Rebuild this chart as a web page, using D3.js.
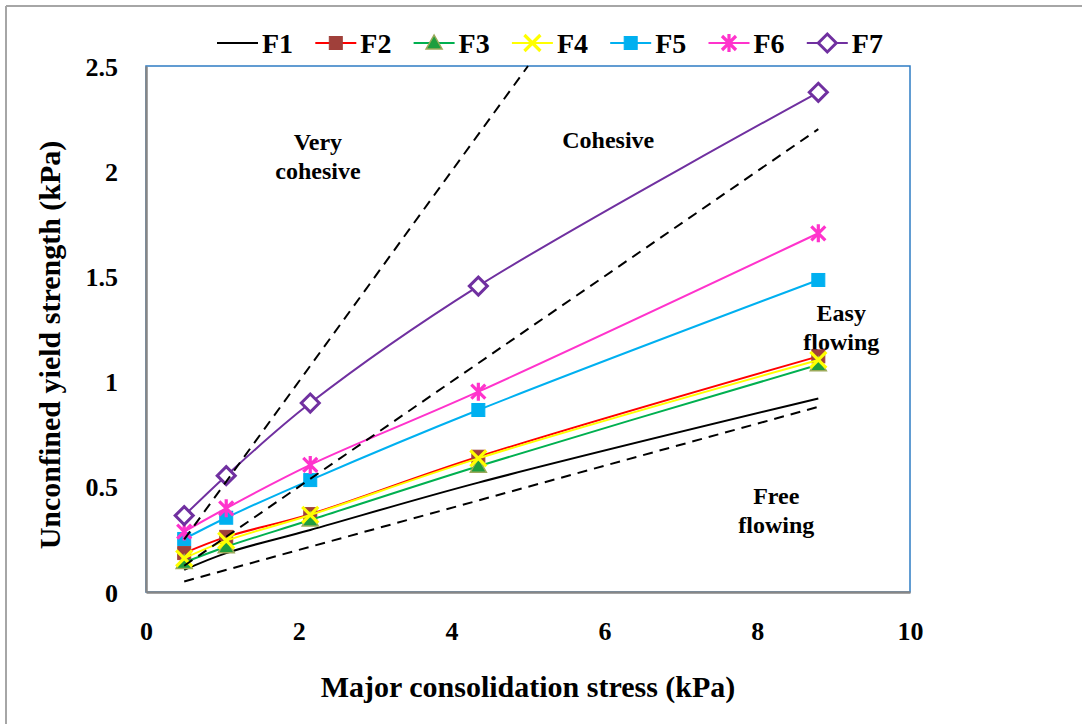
<!DOCTYPE html>
<html>
<head>
<meta charset="utf-8">
<script src="https://cdn.jsdelivr.net/npm/d3@7"></script>
<style>
  html, body { margin: 0; padding: 0; background: #fff; }
  svg { display: block; }
</style>
</head>
<body>
<svg id="chart" width="1082" height="724"></svg>
<script>
// ---- data ----
const stress = [0.5, 1.05, 2.15, 4.35, 8.8];
const F1 = [0.105, 0.185, 0.295, 0.52, 0.92];
const F2 = [0.185, 0.262, 0.37, 0.643, 1.12];
const F3 = [0.14, 0.215, 0.342, 0.598, 1.08];
const F4 = [0.16, 0.244, 0.366, 0.635, 1.103];
const F5 = [0.252, 0.353, 0.532, 0.865, 1.483];
const F6 = [0.287, 0.398, 0.604, 0.952, 1.705];
const F7 = [0.363, 0.553, 0.898, 1.454, 2.375];
const seriesNames = ["F1", "F2", "F3", "F4", "F5", "F6", "F7"];
// flowability boundary lines (ffc = 10, 4, 2)
const ffc10 = [[0.5, 0.05], [8.8, 0.88]];
const ffc4 = [[0.5, 0.125], [8.8, 2.2]];
const ffc2 = [[0.5, 0.25], [5.0, 2.5]];
const xTicks = [0, 2, 4, 6, 8, 10];
const yTicks = [0, 0.5, 1, 1.5, 2, 2.5];
const regionLabels = [
  {lines: ["Very", "cohesive"], x: 2.25, y: 2.1},
  {lines: ["Cohesive"], x: 6.05, y: 2.11},
  {lines: ["Easy", "flowing"], x: 9.1, y: 1.29},
  {lines: ["Free", "flowing"], x: 8.25, y: 0.42}
];

const FONT = '"Liberation Serif", "Times New Roman", Times, "DejaVu Serif", serif';
const seriesVals = [F1, F2, F3, F4, F5, F6, F7];
const styles = [
  {line: "#000000", marker: "none"},
  {line: "#FF0000", marker: "square", fill: "#A0403A", stroke: "#A0403A"},
  {line: "#00B050", marker: "triangle", fill: "#1E9E3E", stroke: "#9BAA5A"},
  {line: "#FFFF00", marker: "x", stroke: "#FFFF00"},
  {line: "#00B0F0", marker: "square", fill: "#00B0F0", stroke: "#00B0F0"},
  {line: "#FF33CC", marker: "star", stroke: "#FF33CC"},
  {line: "#7030A0", marker: "diamond", stroke: "#7030A0"}
];

const svg = d3.select("#chart");
const L = 146, R = 910, T = 66, B = 592;
const x = d3.scaleLinear().domain([0, 10]).range([L, R]);
const y = d3.scaleLinear().domain([0, 2.5]).range([B, T]);

function txt(sel) {
  return sel.attr("font-family", FONT).attr("font-weight", "bold").attr("fill", "#000");
}

// outer frame
svg.append("line").attr("x1", 6).attr("x2", 1082).attr("y1", 6).attr("y2", 6).attr("stroke", "#A6A6A6").attr("stroke-width", 2);
svg.append("line").attr("x1", 6).attr("x2", 6).attr("y1", 6).attr("y2", 724).attr("stroke", "#A6A6A6").attr("stroke-width", 2);

// plot area border
svg.append("rect").attr("x", L).attr("y", T).attr("width", R - L).attr("height", B - T)
  .attr("fill", "none").attr("stroke", "#2E7CC4").attr("stroke-width", 1.5);

// axes
const xAxis = svg.append("g").attr("transform", `translate(0,${B})`)
  .call(d3.axisBottom(x).tickValues(xTicks).tickSize(0).tickPadding(30).tickFormat(d3.format("d")));
const yAxis = svg.append("g").attr("transform", `translate(${L},0)`)
  .call(d3.axisLeft(y).tickValues(yTicks).tickSize(0).tickPadding(28).tickFormat(d => d));
[xAxis, yAxis].forEach(g => {
  g.attr("font-family", FONT);
  g.select(".domain").attr("stroke", "#868686").attr("stroke-width", 2.5);
  txt(g.selectAll("text")).attr("font-size", 26);
});
yAxis.selectAll("text").attr("dy", "0.35em");

// axis titles
txt(svg.append("text")).attr("x", 528).attr("y", 697).attr("text-anchor", "middle").attr("font-size", 30)
  .text("Major consolidation stress (kPa)");
txt(svg.append("text")).attr("transform", "translate(60,345) rotate(-90)").attr("text-anchor", "middle").attr("font-size", 30)
  .text("Unconfined yield strength (kPa)");

// region labels
regionLabels.forEach(r => {
  const t = txt(svg.append("text")).attr("text-anchor", "middle").attr("font-size", 24)
    .attr("x", x(r.x)).attr("y", y(r.y));
  r.lines.forEach((s, i) => t.append("tspan").attr("x", x(r.x)).attr("dy", i === 0 ? 0 : 29).text(s));
});

const curve = d3.line().x(d => x(d[0])).y(d => y(d[1])).curve(d3.curveCatmullRom.alpha(0.5));
const straight = d3.line().x(d => x(d[0])).y(d => y(d[1]));

function drawMarker(g, type, st, cx, cy) {
  if (type === "square") {
    g.append("rect").attr("x", cx - 6.5).attr("y", cy - 6.5).attr("width", 13).attr("height", 13)
      .attr("fill", st.fill).attr("stroke", st.stroke).attr("stroke-width", 1);
  } else if (type === "triangle") {
    g.append("path").attr("d", `M${cx},${cy - 8}L${cx + 8},${cy + 6}L${cx - 8},${cy + 6}Z`)
      .attr("fill", st.fill).attr("stroke", st.stroke).attr("stroke-width", 1.5);
  } else if (type === "x") {
    g.append("path").attr("d", `M${cx - 8},${cy - 8}L${cx + 8},${cy + 8}M${cx - 8},${cy + 8}L${cx + 8},${cy - 8}`)
      .attr("stroke", st.stroke).attr("stroke-width", 3.2).attr("fill", "none");
  } else if (type === "star") {
    g.append("path").attr("d", `M${cx - 7},${cy - 7}L${cx + 7},${cy + 7}M${cx - 7},${cy + 7}L${cx + 7},${cy - 7}M${cx},${cy - 9}L${cx},${cy + 9}`)
      .attr("stroke", st.stroke).attr("stroke-width", 3.2).attr("fill", "none");
  } else if (type === "diamond") {
    g.append("path").attr("d", `M${cx},${cy - 9}L${cx + 9},${cy}L${cx},${cy + 9}L${cx - 9},${cy}Z`)
      .attr("stroke", st.stroke).attr("stroke-width", 3).attr("fill", "#fff");
  }
}

// series
seriesVals.forEach((vals, i) => {
  const st = styles[i];
  const pts = stress.map((s, j) => [s, vals[j]]);
  const g = svg.append("g");
  g.append("path").attr("d", curve(pts)).attr("fill", "none").attr("stroke", st.line).attr("stroke-width", 2);
  pts.forEach(p => drawMarker(g, st.marker, st, x(p[0]), y(p[1])));
});

// boundary dashed lines
[ffc10, ffc4, ffc2].forEach(pts => {
  svg.append("path").attr("d", straight(pts)).attr("fill", "none").attr("stroke", "#000")
    .attr("stroke-width", 2).attr("stroke-dasharray", "10,7");
});

// legend
const legX0 = 217, legStep = 98.3, legY = 43;
seriesNames.forEach((name, i) => {
  const st = styles[i];
  const g = svg.append("g");
  const lx = legX0 + i * legStep;
  g.append("line").attr("x1", lx).attr("x2", lx + 41).attr("y1", legY).attr("y2", legY)
    .attr("stroke", st.line).attr("stroke-width", 2.2);
  drawMarker(g, st.marker, st, lx + 20.5, legY);
  txt(g.append("text")).attr("x", lx + 45).attr("y", legY).attr("dy", "0.35em").attr("font-size", 28).text(name);
});
</script>
</body>
</html>
